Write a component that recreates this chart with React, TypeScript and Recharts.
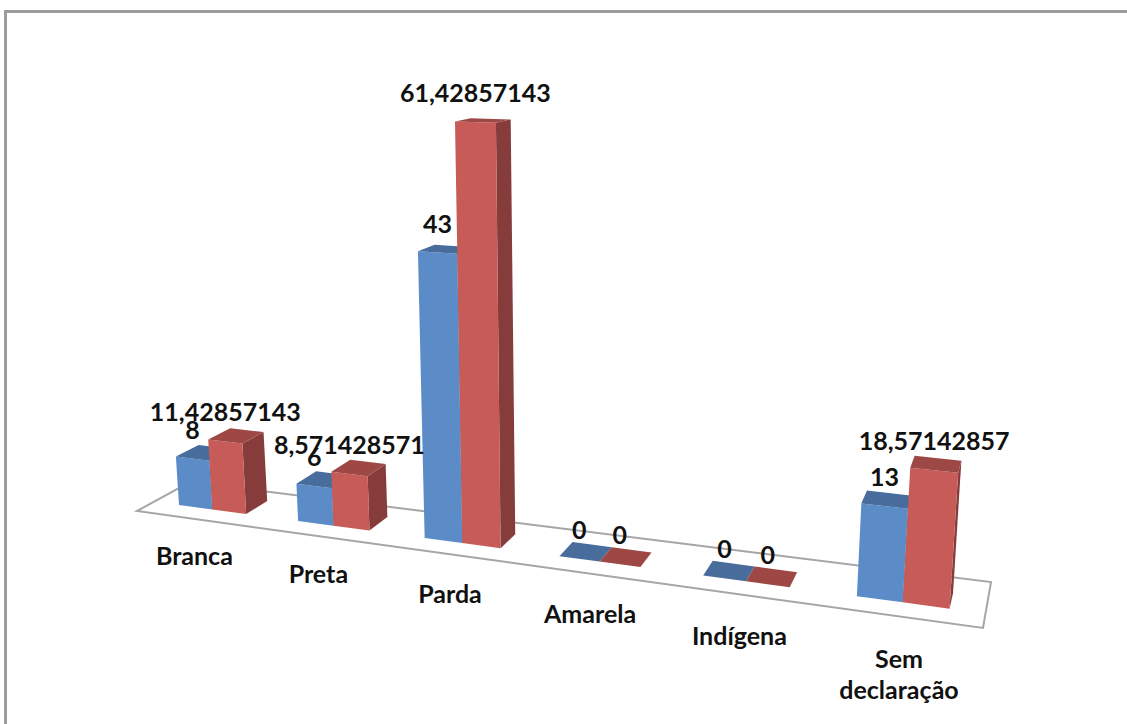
import React from 'react';
import { BarChart, Bar, XAxis, YAxis, LabelList, Customized } from 'recharts';

const categories = ['Branca', 'Preta', 'Parda', 'Amarela', 'Indígena', 'Sem declaração'];
const countValues = [8, 6, 43, 0, 0, 13];
const percentValues = [11.42857143, 8.571428571, 61.42857143, 0, 0, 18.57142857];

const data = categories.map((name, i) => ({ name, count: countValues[i], percent: percentValues[i] }));

const WIDTH = 1127;
const HEIGHT = 724;
const PLOT_LEFT = 140;
const BAND = 140;
const GAP = 0.212;
const FONT = 'Lato, sans-serif';

// the reference is a 3D column chart, so recharts' flat plot gets pushed through a perspective
const toSlot = (u: number) => (u - PLOT_LEFT) / BAND - GAP;
const persp = (t: number) => 1 - 0.0295 * t;

function project(u: number, v: number, depth = 0) {
  const t = toSlot(u);
  const w = persp(t);
  const baseX = (179 + 110.3 * t) / w;
  const baseY = 505 + 0.1345 * (baseX - 179);
  const rise = v / (w * (1 - 0.00017 * v));
  const x = baseX + (baseX - 567) * rise * 0.000165;
  const y = baseY - rise;
  // depth runs towards the vanishing point of the floor's side edges
  return [x + depth * (1086 - x), y + depth * (-11 - y)];
}

const pts = (list: number[][]) => list.map(p => p.join(',')).join(' ');
const DEPTH = 0.025;

function Column(props: any) {
  const { x, width, height, front, top, side } = props;
  const right = x + width;
  const fl = project(x, 0);
  const fr = project(right, 0);
  const tl = project(x, height);
  const tr = project(right, height);
  const bl = project(x, height, DEPTH);
  const br = project(right, height, DEPTH);
  const dr = project(right, 0, DEPTH);
  return (
    <g>
      {height > 0 && <polygon points={pts([fr, tr, br, dr])} fill={side} />}
      {height > 0 && <polygon points={pts([fl, tl, tr, fr])} fill={front} />}
      <polygon points={pts([tl, bl, br, tr])} fill={top} />
    </g>
  );
}

function ValueLabel(props: any) {
  const { x, width, height, value } = props;
  const [cx, cy] = project(x + width / 2, height);
  return (
    <text x={cx} y={cy - 20} textAnchor="middle" fontFamily={FONT} fontSize={25} fontWeight={700} fill="#111">
      {String(value).replace('.', ',')}
    </text>
  );
}

function CategoryTick(props: any) {
  const { x, payload } = props;
  const t = toSlot(x);
  const [cx, cy] = project(x, 0);
  const lines = String(payload.value).split(' ');
  return (
    <text textAnchor="middle" fontFamily={FONT} fontSize={25} fontWeight={700} fill="#111">
      {lines.map((line, i) => (
        <tspan key={line} x={cx - 19 + 2.8 * t} y={cy + 55 + 2 * t + i * 31}>{line}</tspan>
      ))}
    </text>
  );
}

function Floor() {
  return (
    <polygon
      points="137,511 190,482 991,582 983,628"
      fill="#fff"
      stroke="#a6a6a6"
      strokeWidth={2}
    />
  );
}

export default function App() {
  return (
    <div style={{ position: 'absolute', left: 0, top: 0, width: WIDTH, height: HEIGHT, background: '#fff', overflow: 'hidden' }}>
      <div style={{ position: 'absolute', left: 4, top: 10, width: 1200, height: 800, borderTop: '3px solid #9c9c9c', borderLeft: '3px solid #9c9c9c' }} />
      <BarChart
        width={WIDTH}
        height={HEIGHT}
        data={data}
        margin={{ top: 224, right: WIDTH - PLOT_LEFT - BAND * 6, left: PLOT_LEFT, bottom: 40 }}
        barCategoryGap={`${GAP * 100}%`}
        barGap={0}
        style={{ position: 'absolute', left: 0, top: 0 }}
      >
        <XAxis dataKey="name" axisLine={false} tickLine={false} interval={0} height={40} tick={<CategoryTick />} />
        <YAxis hide domain={[0, 70]} />
        <Customized component={Floor} />
        <Bar
          dataKey="count"
          isAnimationActive={false}
          shape={(p: any) => <Column {...p} front="#5b8cc8" top="#486d9d" side="#3d6490" />}
        >
          <LabelList dataKey="count" content={<ValueLabel />} />
        </Bar>
        <Bar
          dataKey="percent"
          isAnimationActive={false}
          shape={(p: any) => <Column {...p} front="#c65b57" top="#9d4845" side="#853c3b" />}
        >
          <LabelList dataKey="percent" content={<ValueLabel />} />
        </Bar>
      </BarChart>
    </div>
  );
}
